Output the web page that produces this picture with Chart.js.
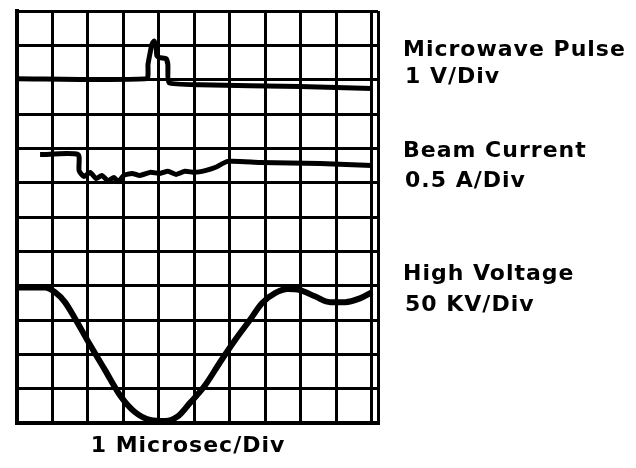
<!DOCTYPE html>
<html>
<head>
<meta charset="utf-8">
<script src="https://cdn.jsdelivr.net/npm/chart.js@4"></script>
<style>
  html, body { margin: 0; padding: 0; background: #fff; }
  #wrap { width: 636px; height: 468px; position: relative; }
</style>
</head>
<body>
<div id="wrap"><canvas id="scope"></canvas></div>
<script>
// time in divisions (1 microsec/div), signal in divisions from the bottom of the screen
const pulseX = [0, 3.66, 3.69, 3.75, 3.80, 3.86, 3.92, 3.94, 4.03, 4.20, 4.25, 4.28, 5.15, 7.97, 10.0];
const pulseY = [10.03, 10.03, 10.44, 10.78, 11.02, 11.13, 10.99, 10.70, 10.64, 10.61, 10.44, 9.91, 9.85, 9.80, 9.74];

const beamX = [0.65, 1.72, 1.75, 1.89, 2.06, 2.23, 2.39, 2.56, 2.73, 2.85, 3.01, 3.24, 3.46, 3.75, 4.03, 4.25, 4.48, 4.73, 5.01, 5.30, 5.58, 5.94, 6.85, 8.54, 10.0];
const beamY = [7.82, 7.82, 7.35, 7.18, 7.30, 7.12, 7.21, 7.06, 7.15, 7.03, 7.21, 7.27, 7.21, 7.30, 7.27, 7.33, 7.24, 7.33, 7.30, 7.35, 7.44, 7.62, 7.59, 7.56, 7.50];

const hvX = [0, 0.79, 1.07, 1.35, 1.63, 2.06, 2.48, 2.90, 3.32, 3.75, 4.17, 4.54, 4.87, 5.30, 5.72, 6.14, 6.56, 6.90, 7.27, 7.63, 7.97, 8.39, 8.82, 9.24, 9.66, 10.0];
const hvY = [3.95, 3.95, 3.81, 3.52, 3.05, 2.27, 1.54, 0.81, 0.32, 0.09, 0.06, 0.20, 0.58, 1.10, 1.77, 2.41, 3.00, 3.49, 3.78, 3.90, 3.87, 3.69, 3.52, 3.52, 3.63, 3.81];

const xDivs = [0, 1, 2, 3, 4, 5, 6, 7, 8, 9, 10, 10.17];
const yDivs = [0, 1, 2, 3, 4, 5, 6, 7, 8, 9, 10, 11, 12];

const traceNames = ['Microwave Pulse', 'Beam Current', 'High Voltage'];
const traceScales = ['1 V/Div', '0.5 A/Div', '50 KV/Div'];
const timeLabel = '1 Microsec/Div';

function pts(xs, ys) {
  return xs.map((x, i) => ({ x: x, y: ys[i] }));
}

const labelPlugin = {
  id: 'scopeLabels',
  afterDraw(chart) {
    const ctx = chart.ctx;
    ctx.save();
    ctx.fillStyle = '#000';
    ctx.font = 'bold 22px "DejaVu Sans", sans-serif';
    ctx.letterSpacing = '1px';
    ctx.textBaseline = 'middle';
    ctx.textAlign = 'left';
    const rows = [[50, 77], [151, 181], [274, 305]];
    traceNames.forEach((name, i) => {
      ctx.fillText(name, 403, rows[i][0]);
      ctx.fillText(traceScales[i], 405, rows[i][1]);
    });
    ctx.textAlign = 'center';
    ctx.fillText(timeLabel, 188, 446);
    ctx.restore();
  }
};

const gridOpts = { color: '#000', lineWidth: 3, drawTicks: false };

new Chart(document.getElementById('scope'), {
  type: 'line',
  data: {
    datasets: [
      { label: traceNames[0], data: pts(pulseX, pulseY), borderColor: '#000', borderWidth: 5, pointRadius: 0, tension: 0.15 },
      { label: traceNames[1], data: pts(beamX, beamY), borderColor: '#000', borderWidth: 5, pointRadius: 0, tension: 0.2 },
      { label: traceNames[2], data: pts(hvX, hvY), borderColor: '#000', borderWidth: 6, pointRadius: 0, cubicInterpolationMode: 'monotone' }
    ]
  },
  options: {
    responsive: true,
    maintainAspectRatio: false,
    animation: false,
    layout: { padding: { left: 17, right: 258, top: 11, bottom: 45 } },
    plugins: { legend: { display: false }, tooltip: { enabled: false } },
    scales: {
      x: {
        type: 'linear', min: 0, max: 10.17,
        afterBuildTicks: s => { s.ticks = xDivs.map(v => ({ value: v })); },
        ticks: { display: false },
        grid: gridOpts,
        border: { color: '#000', width: 4 }
      },
      y: {
        type: 'linear', min: 0, max: 12,
        afterBuildTicks: s => { s.ticks = yDivs.map(v => ({ value: v })); },
        ticks: { display: false },
        grid: gridOpts,
        border: { color: '#000', width: 4 }
      }
    }
  },
  plugins: [labelPlugin]
});
</script>
</body>
</html>
